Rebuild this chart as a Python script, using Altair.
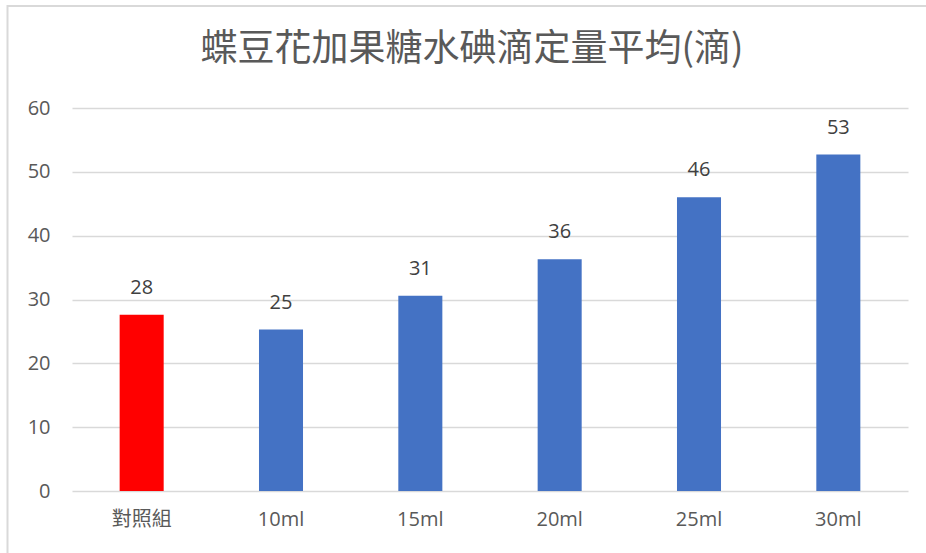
import altair as alt
import pandas as pd

categories = ["對照組", "10ml", "15ml", "20ml", "25ml", "30ml"]
values = [27.6, 25.3, 30.6, 36.3, 46.0, 52.7]
labels = ["28", "25", "31", "36", "46", "53"]
colors = ["#FF0000", "#4472C4", "#4472C4", "#4472C4", "#4472C4", "#4472C4"]
title_text = "蝶豆花加果糖水碘滴定量平均(滴)"

df = pd.DataFrame({"cat": categories, "val": values, "lab": labels, "col": colors})

FONT = "Open Sans, Noto Sans CJK TC, sans-serif"
GRID = "#d9d9d9"

x_enc = alt.X("cat:N", sort=categories, title=None,
              scale=alt.Scale(paddingInner=0.684, paddingOuter=0.342),
              axis=alt.Axis(labelAngle=0, labelFont=FONT, labelFontSize=20,
                            labelColor="#595959", labelPadding=18, ticks=False,
                            domain=False, grid=False))
y_enc = alt.Y("val:Q", title=None,
              scale=alt.Scale(domain=[0, 60], nice=False),
              axis=alt.Axis(values=[0, 10, 20, 30, 40, 50, 60], labelFont=FONT,
                            labelFontSize=20, labelColor="#595959", labelPadding=22,
                            ticks=False, domain=False, gridColor=GRID, gridWidth=1.5))

bars = alt.Chart(df).mark_bar().encode(
    x=x_enc, y=y_enc, color=alt.Color("col:N", scale=None))

text = alt.Chart(df).mark_text(baseline="bottom", dy=-17, font=FONT, fontSize=20,
                               color="#404040").encode(
    x=alt.X("cat:N", sort=categories), y="val:Q", text="lab:N")

one_row = pd.DataFrame({"t": [title_text]})
title_mark = alt.Chart(one_row).mark_text(
    font="Noto Sans CJK TC", fontSize=37, color="#595959", align="center",
    baseline="middle").encode(x=alt.value(400), y=alt.value(-58), text="t:N")

top_border = alt.Chart(one_row).mark_rule(color=GRID, strokeWidth=2).encode(
    x=alt.value(-65), x2=alt.value(860), y=alt.value(-102))
left_border = alt.Chart(one_row).mark_rule(color=GRID, strokeWidth=2).encode(
    x=alt.value(-64.5), y=alt.value(-103), y2=alt.value(450))

chart = alt.layer(bars, text, title_mark, top_border, left_border).properties(
    width=836, height=383,
    background="white",
    autosize=alt.AutoSizeParams(type="none"),
    padding={"left": 72, "top": 108, "right": 18, "bottom": 62},
).configure_view(stroke=None)

chart.save("out.html", embed_options={"renderer": "svg", "actions": False})
